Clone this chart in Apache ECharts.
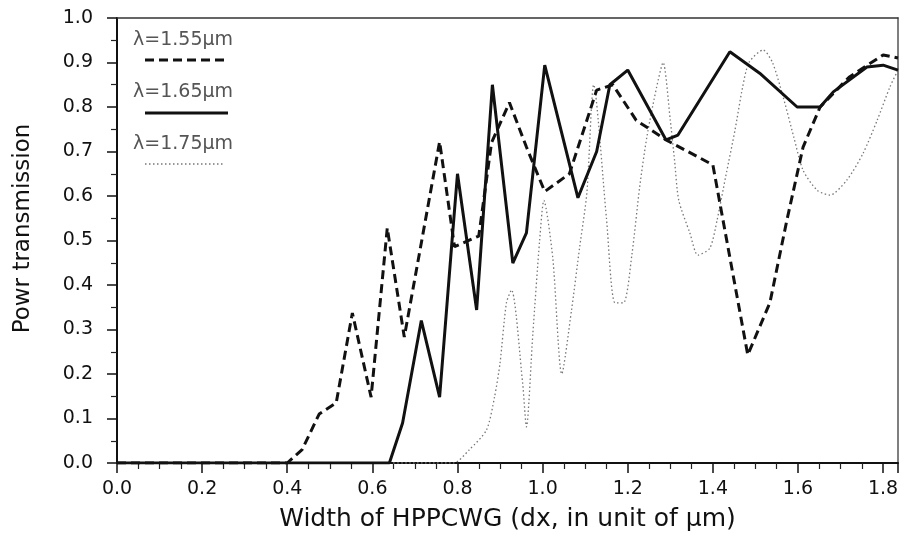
<!DOCTYPE html>
<html>
<head>
<meta charset="utf-8">
<script src="https://cdn.jsdelivr.net/npm/echarts@6/dist/echarts.min.js"></script>
<style>
html,body{margin:0;padding:0;background:#fff;}
#chart{width:905px;height:538px;}
</style>
</head>
<body>
<div id="chart"></div>
<script>
// ---- data ----
const xTickLabels = ['0.0','0.2','0.4','0.6','0.8','1.0','1.2','1.4','1.6','1.8'];
const yTickLabels = ['0.0','0.1','0.2','0.3','0.4','0.5','0.6','0.7','0.8','0.9','1.0'];
const seriesNames = ['λ=1.55μm','λ=1.65μm','λ=1.75μm'];

const x155 = [0, 0.40, 0.435, 0.475, 0.515, 0.553, 0.597, 0.635, 0.675, 0.758, 0.793, 0.85, 0.88, 0.922, 0.962, 1.005, 1.063, 1.127, 1.165, 1.22, 1.29, 1.40, 1.482, 1.534, 1.574, 1.612, 1.652, 1.72, 1.80, 1.835];
const y155 = [0, 0, 0.03, 0.11, 0.135, 0.337, 0.148, 0.528, 0.283, 0.722, 0.486, 0.51, 0.72, 0.81, 0.71, 0.61, 0.65, 0.838, 0.85, 0.77, 0.726, 0.67, 0.243, 0.36, 0.546, 0.71, 0.80, 0.867, 0.917, 0.91];

const x165 = [0, 0.64, 0.671, 0.715, 0.758, 0.786, 0.80, 0.845, 0.882, 0.93, 0.962, 1.005, 1.083, 1.127, 1.158, 1.20, 1.29, 1.318, 1.44, 1.51, 1.598, 1.652, 1.683, 1.762, 1.80, 1.835];
const y165 = [0, 0, 0.09, 0.32, 0.148, 0.485, 0.65, 0.344, 0.85, 0.449, 0.517, 0.894, 0.596, 0.70, 0.85, 0.883, 0.726, 0.737, 0.924, 0.876, 0.80, 0.80, 0.834, 0.89, 0.894, 0.883];

const x175 = [0, 0.79, 0.828, 0.868, 0.887, 0.90, 0.915, 0.927, 0.953, 0.962, 0.977, 0.993, 1.003, 1.024, 1.045, 1.068, 1.087, 1.104, 1.12, 1.15, 1.17, 1.19, 1.21, 1.228, 1.245, 1.268, 1.283, 1.30, 1.31, 1.32, 1.346, 1.365, 1.393, 1.41, 1.43, 1.452, 1.47, 1.485, 1.518, 1.54, 1.565, 1.59, 1.612, 1.645, 1.675, 1.715, 1.753, 1.786, 1.816, 1.835];
const y175 = [0, 0, 0.03, 0.074, 0.148, 0.225, 0.36, 0.389, 0.18, 0.081, 0.29, 0.50, 0.59, 0.46, 0.20, 0.344, 0.485, 0.607, 0.85, 0.55, 0.36, 0.36, 0.47, 0.62, 0.733, 0.845, 0.90, 0.77, 0.68, 0.59, 0.517, 0.467, 0.483, 0.546, 0.643, 0.748, 0.845, 0.90, 0.928, 0.90, 0.823, 0.733, 0.658, 0.613, 0.602, 0.636, 0.696, 0.77, 0.845, 0.883];

const X_MAX = 1.835;
// ----------------------------------------

function pairs(xs, ys){ return xs.map((x,i)=>[x, ys[i]]); }

const FONT = 'DejaVu Sans';
const chart = echarts.init(document.getElementById('chart'), null, {renderer:'canvas'});

const option = {
  animation: false,
  backgroundColor: '#fff',
  grid: {left:117, right:7, top:18, bottom:75, containLabel:false},
  xAxis: [{
    type:'value', min:0, max:X_MAX, interval:0.2,
    name:'Width of HPPCWG (dx, in unit of μm)',
    nameLocation:'middle', nameGap:44,
    nameTextStyle:{fontFamily:FONT, fontSize:25, color:'#111'},
    axisLine:{show:true, onZero:false, lineStyle:{color:'#111', width:2}},
    axisTick:{show:true, inside:false, length:10, lineStyle:{color:'#111', width:1.5}},
    minorTick:{show:true, splitNumber:4, length:6, lineStyle:{color:'#222', width:1.2}},
    splitLine:{show:false}, minorSplitLine:{show:false},
    axisLabel:{
      fontFamily:FONT, fontSize:19, color:'#111', margin:17,
      formatter:(v)=>{ const k=Math.round(v/0.2); return Math.abs(v-k*0.2)<1e-6 ? xTickLabels[k] : ''; }
    }
  },{
    type:'value', min:0, max:X_MAX, position:'top',
    axisLine:{show:true, onZero:false, lineStyle:{color:'#333', width:1.5}},
    axisTick:{show:false}, axisLabel:{show:false}, splitLine:{show:false}
  }],
  yAxis: [{
    type:'value', min:0, max:1, interval:0.1,
    name:'Powr transmission',
    nameLocation:'middle', nameRotate:90, nameGap:82,
    nameTextStyle:{fontFamily:FONT, fontSize:23, color:'#111', padding:[0,0,0,24]},
    axisLine:{show:true, onZero:false, lineStyle:{color:'#111', width:2}},
    axisTick:{show:true, inside:false, length:10, lineStyle:{color:'#111', width:1.5}},
    minorTick:{show:true, splitNumber:2, length:6, lineStyle:{color:'#222', width:1.2}},
    splitLine:{show:false}, minorSplitLine:{show:false},
    axisLabel:{
      fontFamily:FONT, fontSize:19, color:'#111', margin:24,
      formatter:(v)=>{ const k=Math.round(v*10); return yTickLabels[k] || ''; }
    }
  },{
    type:'value', min:0, max:1, position:'right',
    axisLine:{show:true, onZero:false, lineStyle:{color:'#555', width:1.5}},
    axisTick:{show:false}, axisLabel:{show:false}, splitLine:{show:false}
  }],
  series: [
    {name:seriesNames[0], type:'line', xAxisIndex:0, yAxisIndex:0, data:pairs(x155,y155),
     showSymbol:false, symbol:'none', lineStyle:{color:'#111', width:3, type:[9,5]}, z:3},
    {name:seriesNames[1], type:'line', xAxisIndex:0, yAxisIndex:0, data:pairs(x165,y165),
     showSymbol:false, symbol:'none', lineStyle:{color:'#111', width:3, type:'solid'}, z:4},
    {name:seriesNames[2], type:'line', xAxisIndex:0, yAxisIndex:0, data:pairs(x175,y175),
     showSymbol:false, symbol:'none', smooth:0.25, lineStyle:{color:'#777', width:1.3, type:[1.5,2.5]}, z:2}
  ],
  graphic: [
    {type:'text', left:133, top:31, style:{text:seriesNames[0], font:'19px "DejaVu Sans"', fill:'#555'}},
    {type:'line', shape:{x1:145, y1:60, x2:228, y2:60}, style:{stroke:'#111', lineWidth:3, lineDash:[9,5]}},
    {type:'text', left:133, top:83, style:{text:seriesNames[1], font:'19px "DejaVu Sans"', fill:'#555'}},
    {type:'line', shape:{x1:145, y1:113, x2:228, y2:113}, style:{stroke:'#111', lineWidth:3}},
    {type:'text', left:133, top:135, style:{text:seriesNames[2], font:'19px "DejaVu Sans"', fill:'#555'}},
    {type:'line', shape:{x1:145, y1:164, x2:225, y2:164}, style:{stroke:'#777', lineWidth:1.3, lineDash:[1.5,2.5]}}
  ]
};
chart.setOption(option);
</script>
</body>
</html>
